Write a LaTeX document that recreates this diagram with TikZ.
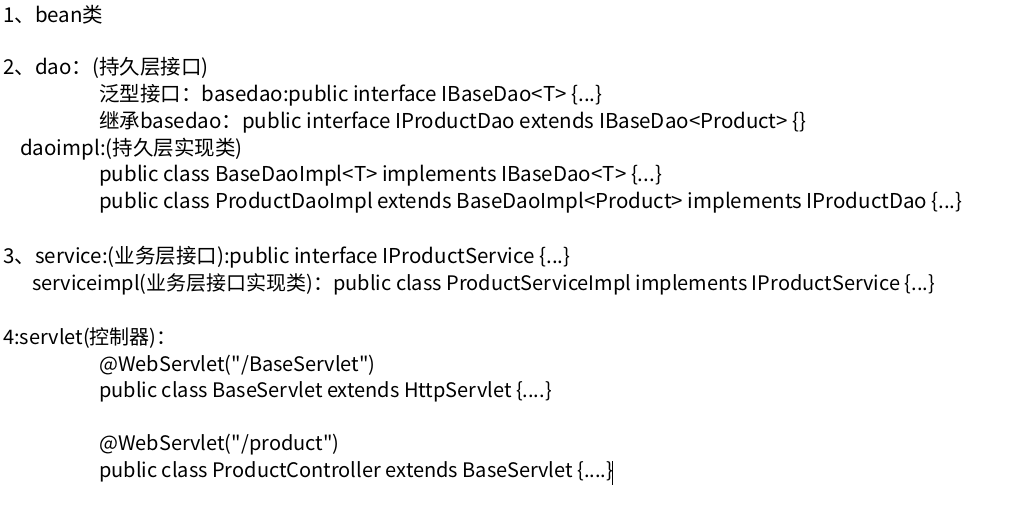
\documentclass[tikz,border=0pt]{standalone}
\usepackage{fontspec}
\newfontfamily\cjkf{Noto Sans CJK SC}
\begin{document}
\begin{tikzpicture}[x=1pt,y=1pt,
  txt/.style={anchor=west,inner sep=0pt,font=\cjkf\fontsize{20.5}{24}\selectfont},
  txs/.style={txt,font=\cjkf\fontsize{20}{24}\selectfont}]
\useasboundingbox[fill=white] (0,0) rectangle (1027,-504);
\node[txt] (l1) at (3,-15) {1、bean类};
\node[txt] (l2) at (3,-68) {2、dao：(持久层接口)};
\node[txt] (l3) at (99,-95) {泛型接口：basedao:public interface IBaseDao<T> \{...\}};
\node[txt] (l4) at (99,-122) {继承basedao：public interface IProductDao extends IBaseDao<Product> \{\}};
\node[txt] (l5) at (20,-149) {daoimpl:(持久层实现类)};
\node[txt] (l6) at (99,-176) {public class BaseDaoImpl<T> implements IBaseDao<T> \{...\}};
\node[txt] (l7) at (99,-203) {public class ProductDaoImpl extends BaseDaoImpl<Product> implements IProductDao \{...\}};
\node[txt] (l8) at (3,-257) {3、service:(业务层接口):public interface IProductService \{...\}};
\node[txs] (l9) at (32,-284) {serviceimpl(业务层接口实现类)：public class ProductServiceImpl implements IProductService \{...\}};
\node[txs] (l10) at (3,-338) {4:servlet(控制器)：};
\node[txs] (l11) at (99,-365) {@WebServlet("/BaseServlet")};
\node[txs] (l12) at (99,-392) {public class BaseServlet extends HttpServlet \{....\}};
\node[txs] (l13) at (99,-445) {@WebServlet("/product")};
\node[txs] (l14) at (99,-472) {public class ProductController extends BaseServlet \{....\}};
\coordinate (c1) at (612,-461);
\coordinate (c2) at (612,-485);
\draw[line width=0.8pt] (c1) -- (c2);
\end{tikzpicture}
\end{document}
